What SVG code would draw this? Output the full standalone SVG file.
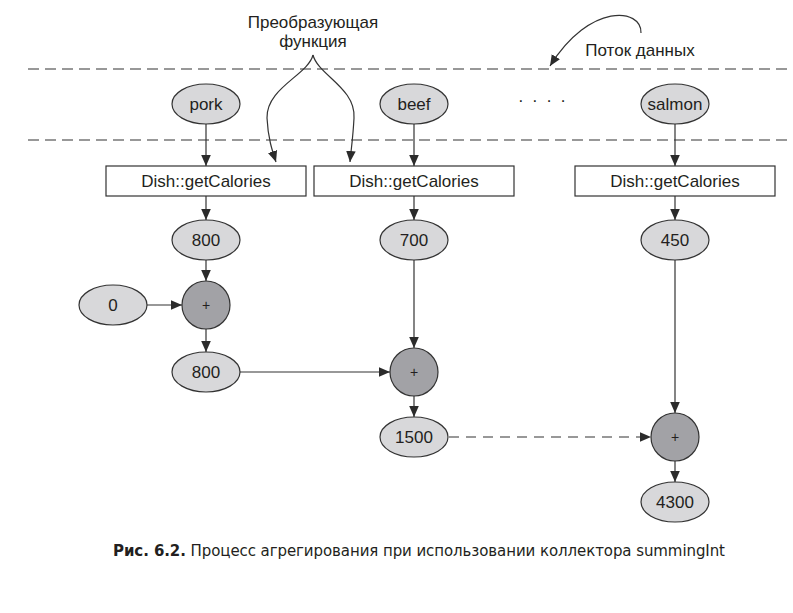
<svg xmlns="http://www.w3.org/2000/svg" width="793" height="613" viewBox="0 0 793 613">
<style>
.bg{fill:#ffffff}
.sep{stroke:#333;stroke-width:1.2;stroke-dasharray:11 6;fill:none}
.el{fill:#d8d8da;stroke:#333;stroke-width:1.2}
.op{fill:#a2a2a6;stroke:#333;stroke-width:1.2}
.box{fill:#ffffff;stroke:#333;stroke-width:1.2}
.t{font-family:"Liberation Sans",Arial,sans-serif;font-size:17px;fill:#231f20;text-anchor:middle}
.plus{font-family:"Liberation Sans",Arial,sans-serif;font-size:14px;fill:#231f20;text-anchor:middle}
.e{stroke:#333;stroke-width:1.2;fill:none;marker-end:url(#ah)}
.dash{stroke-dasharray:10 7}
.cap{font-family:"DejaVu Sans",Verdana,sans-serif;font-size:15px;fill:#231f20}
</style>
<defs>
<marker id="ah" markerUnits="userSpaceOnUse" markerWidth="12" markerHeight="12" viewBox="0 0 12 12" refX="11" refY="6" orient="auto">
<path d="M0,1.2 L11,6 L0,10.8 Z" fill="#2b2b2b"/>
</marker>
</defs>
<rect class="bg" x="0" y="0" width="793" height="613"/>

<g id="separators">
<line class="sep" x1="28" y1="69" x2="793" y2="69"/>
<line class="sep" x1="28" y1="140" x2="793" y2="140"/>
</g>

<g id="label-transform">
<text class="t" x="313" y="28">Преобразующая</text>
<text class="t" x="313" y="47">функция</text>
</g>
<g id="label-stream">
<text class="t" x="640" y="56">Поток данных</text>
</g>
<g id="dots">
<text class="t" x="542" y="106" textLength="48" lengthAdjust="spacing">· · · ·</text>
</g>

<g id="connectors">
<path class="e" d="M313,55 C308,75 266,88 267,118 C268,138 272,150 276,162"/>
<path class="e" d="M313,55 C318,75 356,88 354,118 C353,138 351,150 350,162"/>
<path class="e" d="M641,33 C642,8 590,2 550,66"/>
<line class="e" x1="206" y1="124" x2="206" y2="166"/>
<line class="e" x1="414" y1="124" x2="414" y2="166"/>
<line class="e" x1="675" y1="124" x2="675" y2="166"/>
<line class="e" x1="206" y1="196" x2="206" y2="220"/>
<line class="e" x1="414" y1="196" x2="414" y2="220"/>
<line class="e" x1="675" y1="196" x2="675" y2="220"/>
<line class="e" x1="206" y1="260" x2="206" y2="281"/>
<line class="e" x1="147" y1="305" x2="182" y2="305"/>
<line class="e" x1="206" y1="329" x2="206" y2="352"/>
<line class="e" x1="240" y1="372" x2="390" y2="372"/>
<line class="e" x1="414" y1="260" x2="414" y2="348"/>
<line class="e" x1="414" y1="396" x2="414" y2="417"/>
<line class="e dash" x1="449" y1="437" x2="651" y2="437"/>
<line class="e" x1="675" y1="260" x2="675" y2="413"/>
<line class="e" x1="675" y1="461" x2="675" y2="482"/>
</g>

<g id="n-pork"><ellipse class="el" cx="206" cy="104" rx="34" ry="20"/><text class="t" x="206" y="110">pork</text></g>
<g id="n-beef"><ellipse class="el" cx="414" cy="104" rx="34" ry="20"/><text class="t" x="414" y="110">beef</text></g>
<g id="n-salmon"><ellipse class="el" cx="675" cy="104" rx="34" ry="20"/><text class="t" x="675" y="110">salmon</text></g>

<g id="n-box1"><rect class="box" x="106" y="166" width="200" height="30"/><text class="t" x="206" y="187">Dish::getCalories</text></g>
<g id="n-box2"><rect class="box" x="314" y="166" width="200" height="30"/><text class="t" x="414" y="187">Dish::getCalories</text></g>
<g id="n-box3"><rect class="box" x="575" y="166" width="200" height="30"/><text class="t" x="675" y="187">Dish::getCalories</text></g>

<g id="n-800a"><ellipse class="el" cx="206" cy="240" rx="34" ry="20"/><text class="t" x="206" y="246">800</text></g>
<g id="n-700"><ellipse class="el" cx="414" cy="240" rx="34" ry="20"/><text class="t" x="414" y="246">700</text></g>
<g id="n-450"><ellipse class="el" cx="675" cy="240" rx="34" ry="20"/><text class="t" x="675" y="246">450</text></g>

<g id="n-0"><ellipse class="el" cx="113" cy="305" rx="34" ry="20"/><text class="t" x="113" y="311">0</text></g>
<g id="n-plus1"><circle class="op" cx="206" cy="305" r="24"/><text class="plus" x="206" y="310">+</text></g>
<g id="n-800b"><ellipse class="el" cx="206" cy="372" rx="34" ry="20"/><text class="t" x="206" y="378">800</text></g>
<g id="n-plus2"><circle class="op" cx="414" cy="372" r="24"/><text class="plus" x="414" y="377">+</text></g>
<g id="n-1500"><ellipse class="el" cx="414" cy="437" rx="34" ry="20"/><text class="t" x="414" y="443">1500</text></g>
<g id="n-plus3"><circle class="op" cx="675" cy="437" r="24"/><text class="plus" x="675" y="442">+</text></g>
<g id="n-4300"><ellipse class="el" cx="675" cy="502" rx="34" ry="20"/><text class="t" x="675" y="508">4300</text></g>

<g id="caption">
<text class="cap" x="113" y="556" textLength="612" lengthAdjust="spacing"><tspan font-weight="bold">Рис. 6.2.</tspan> Процесс агрегирования при использовании коллектора summingInt</text>
</g>
</svg>
